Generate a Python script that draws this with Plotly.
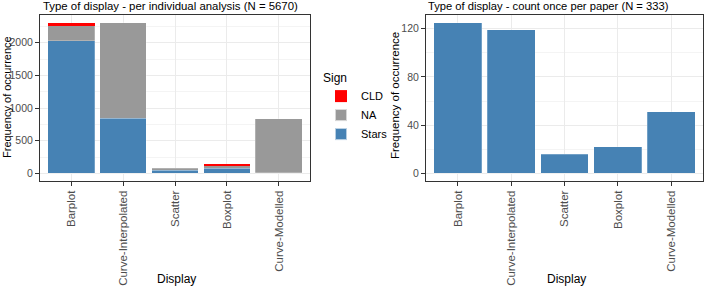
import plotly.graph_objects as go

categories = ["Barplot", "Curve-Interpolated", "Scatter", "Boxplot", "Curve-Modelled"]
stars = [2035, 846, 50, 77, 10]
na = [223, 1464, 30, 51, 830]
cld = [52, 0, 0, 2, 0]
per_paper = [125, 119, 16, 22, 51]

W, H = 708, 286
def fx(px): return px / W
def fy(py): return 1 - py / H

FONT = "Liberation Sans, Arial, sans-serif"
STEEL = "#4682B4"
GREY = "#999999"
RED = "#FF0000"
EDGE = dict(width=0.4, color="rgba(255,255,255,0.6)")

fig = go.Figure()
fig.add_trace(go.Bar(x=categories, y=stars, name="Stars", width=0.9, marker=dict(color=STEEL, line=EDGE), xaxis="x", yaxis="y"))
fig.add_trace(go.Bar(x=categories, y=na, name="NA", width=0.9, marker=dict(color=GREY, line=EDGE), xaxis="x", yaxis="y"))
fig.add_trace(go.Bar(x=categories, y=cld, name="CLD", width=0.9, marker=dict(color=RED, line=dict(width=0)), xaxis="x", yaxis="y"))
fig.add_trace(go.Bar(x=categories, y=per_paper, name="paper", width=0.9, showlegend=False, marker=dict(color=STEEL, line=EDGE), xaxis="x2", yaxis="y2"))

tot1 = max(s + n + c for s, n, c in zip(stars, na, cld))
tot2 = max(per_paper)
ncat = len(categories)

common_x = dict(type="category", showgrid=True, gridcolor="#EBEBEB", gridwidth=1,
                showline=True, mirror=True, linecolor="#333333", linewidth=1,
                ticks="outside", ticklen=4, tickcolor="#333333", tickangle=-90,
                range=[-0.6, ncat - 0.4],
                tickfont=dict(family=FONT, size=11.5, color="#4D4D4D"), zeroline=False)
common_y = dict(showgrid=True, gridcolor="#EBEBEB", gridwidth=1,
                showline=True, mirror=True, linecolor="#333333", linewidth=1,
                ticks="outside", ticklen=4, tickcolor="#333333",
                tickfont=dict(family=FONT, size=10.5, color="#4D4D4D"), zeroline=False)

fig.update_layout(
    width=W, height=H, margin=dict(l=0, r=0, t=0, b=0),
    paper_bgcolor="white", plot_bgcolor="white",
    barmode="stack",
    font=dict(family=FONT, size=11, color="black"),
    xaxis=dict(domain=[fx(40), fx(310)], anchor="y", **common_x),
    yaxis=dict(domain=[fy(181), fy(15)], anchor="x", range=[-0.05 * tot1, 1.05 * tot1],
               tickvals=[0, 500, 1000, 1500, 2000],
               minor=dict(dtick=250, tick0=0, showgrid=True, gridcolor="#F4F4F4", gridwidth=0.6, ticks=""),
               **common_y),
    xaxis2=dict(domain=[fx(426), fx(703)], anchor="y2", **common_x),
    yaxis2=dict(domain=[fy(181), fy(15)], anchor="x2", range=[-0.05 * tot2, 1.05 * tot2],
                tickvals=[0, 40, 80, 120],
                minor=dict(dtick=20, tick0=0, showgrid=True, gridcolor="#F4F4F4", gridwidth=0.6, ticks=""),
                **common_y),
    legend=dict(x=fx(321), y=fy(66), xanchor="left", yanchor="top", traceorder="reversed",
                title=dict(text="Sign", font=dict(family=FONT, size=12, color="black")),
                font=dict(family=FONT, size=11, color="black"), bgcolor="rgba(0,0,0,0)",
                itemsizing="constant"),
    annotations=[
        dict(text="Type of display - per individual analysis (N = 5670)", x=fx(41), y=fy(6), xref="paper", yref="paper",
             xanchor="left", yanchor="middle", showarrow=False, font=dict(family=FONT, size=11.4, color="black")),
        dict(text="Type of display - count once per paper (N = 333)", x=fx(426), y=fy(6), xref="paper", yref="paper",
             xanchor="left", yanchor="middle", showarrow=False, font=dict(family=FONT, size=11.2, color="black")),
        dict(text="Display", x=fx(176), y=fy(279), xref="paper", yref="paper", xanchor="center", yanchor="middle",
             showarrow=False, font=dict(family=FONT, size=12, color="black")),
        dict(text="Display", x=fx(566), y=fy(279), xref="paper", yref="paper", xanchor="center", yanchor="middle",
             showarrow=False, font=dict(family=FONT, size=12, color="black")),
        dict(text="Frequency of occurrence", x=fx(7), y=fy(97), xref="paper", yref="paper", xanchor="center", yanchor="middle",
             textangle=-90, showarrow=False, font=dict(family=FONT, size=11, color="black")),
        dict(text="Frequency of occurrence", x=fx(395), y=fy(96), xref="paper", yref="paper", xanchor="center", yanchor="middle",
             textangle=-90, showarrow=False, font=dict(family=FONT, size=11.5, color="black")),
    ],
)

fig.write_html("out.html", config={"displayModeBar": False},
               post_script="document.body.style.margin='0px';document.body.style.overflow='hidden';")
